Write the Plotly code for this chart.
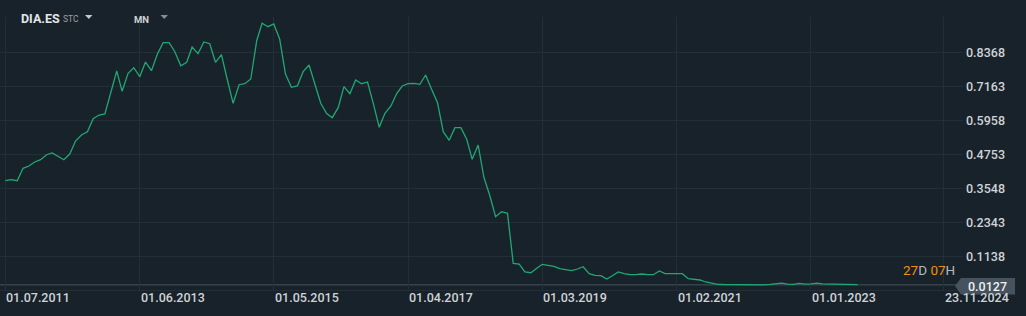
import plotly.graph_objects as go

# ---- data -------------------------------------------------------------
start_year, start_month = 2011, 7
prices = [
    0.3818, 0.3853, 0.3818, 0.4257, 0.4339, 0.4481, 0.4562, 0.4739, 0.4800, 0.4669,
    0.4562, 0.4764, 0.5225, 0.5437, 0.5554, 0.6015, 0.6146, 0.6182, 0.6972, 0.7705,
    0.6986, 0.7624, 0.7822, 0.7503, 0.8024, 0.7716, 0.8308, 0.8708, 0.8708, 0.8389,
    0.7893, 0.8014, 0.8556, 0.8318, 0.8733, 0.8673, 0.8014, 0.8283, 0.7386, 0.6561,
    0.7220, 0.7255, 0.7422, 0.8779, 0.9396, 0.9275, 0.9371, 0.8829, 0.7599, 0.7128,
    0.7174, 0.7681, 0.7918, 0.7270, 0.6561, 0.6199, 0.6051, 0.6405, 0.7149, 0.6901,
    0.7386, 0.7255, 0.7316, 0.6561, 0.5710, 0.6206, 0.6465, 0.6915, 0.7174, 0.7255,
    0.7269, 0.7234, 0.7564, 0.7057, 0.6582, 0.5554, 0.5250, 0.5696, 0.5696, 0.5278,
    0.4576, 0.5083, 0.3939, 0.3286, 0.2542, 0.2720, 0.2663, 0.0891, 0.0866, 0.0583,
    0.0558, 0.0714, 0.0855, 0.0820, 0.0785, 0.0700, 0.0664, 0.0629, 0.0689, 0.0770,
    0.0523, 0.0466, 0.0452, 0.0335, 0.0452, 0.0583, 0.0523, 0.0487, 0.0487, 0.0512,
    0.0487, 0.0487, 0.0618, 0.0523, 0.0523, 0.0523, 0.0523, 0.0345, 0.0335, 0.0299,
    0.0229, 0.0182, 0.0147, 0.0140, 0.0135, 0.0130, 0.0130, 0.0128, 0.0130, 0.0135,
    0.0130, 0.0145, 0.0160, 0.0190, 0.0150, 0.0145, 0.0180, 0.0150, 0.0160, 0.0190,
    0.0160, 0.0155, 0.0150, 0.0150, 0.0145, 0.0140, 0.0135,
]
dates = []
for k in range(len(prices)):
    m = start_month - 1 + k
    dates.append(f"{start_year + m // 12}-{m % 12 + 1:02d}-01")

y_ticks = [0.8368, 0.7163, 0.5958, 0.4753, 0.3548, 0.2343, 0.1138]
x_ticks = ["2011-07-01", "2013-06-01", "2015-05-01", "2017-04-01",
           "2019-03-01", "2021-02-01", "2023-01-01"]
x_tick_text = ["01.07.2011", "01.06.2013", "01.05.2015", "01.04.2017",
               "01.03.2019", "01.02.2021", "01.01.2023"]
current_date, current_date_text = "2024-11-23", "23.11.2024"
last_price, last_price_text = 0.0127, "0.0127"
symbol, symbol_type, timeframe = "DIA.ES", "STC", "MN"

# ---- layout constants -----------------------------------------------
W, H = 1026, 316
ML, MR, MT, MB = 0, 63, 17, 26
PW, PH = W - ML - MR, H - MT - MB
BG = "#18222a"
GRID = "#232e37"
TXT = "#cfd3d7"


def px(xp):
    return (xp - ML) / PW


def py(yp):
    return (H - MB - yp) / PH


fig = go.Figure()
fig.add_trace(go.Scatter(x=dates, y=prices, mode="lines",
                         line=dict(color="#21a872", width=1.3),
                         hoverinfo="skip", showlegend=False))

# current price line
fig.add_shape(type="line", xref="paper", yref="y", x0=0, x1=1,
              y0=last_price, y1=last_price,
              line=dict(color="#46525d", width=1), layer="below")

# price tag with arrow
tag_path = (f"M {px(955)} {py(286)} L {px(961)} {py(278)} L {px(1015)} {py(278)} "
            f"L {px(1015)} {py(294.5)} L {px(961)} {py(294.5)} Z")
fig.add_shape(type="path", xref="paper", yref="paper", path=tag_path,
              fillcolor="#46525d", line=dict(width=0), layer="above")

# header dropdown triangles
for x0, col in [(85, "#c4c8cc"), (160.5, "#858c93")]:
    tri = (f"M {px(x0)} {py(15)} L {px(x0 + 7.5)} {py(15)} "
           f"L {px(x0 + 3.75)} {py(19)} Z")
    fig.add_shape(type="path", xref="paper", yref="paper", path=tri,
                  fillcolor=col, line=dict(width=0), layer="above")

font = "Roboto, Arial, sans-serif"
annotations = []
for xv, tt in zip(x_ticks + [current_date], x_tick_text + [current_date_text]):
    annotations.append(dict(x=xv, xref="x", y=py(297.5), yref="paper",
                            text=tt, showarrow=False, xanchor="left",
                            yanchor="middle", xshift=-1,
                            font=dict(family=font, size=12.5, color=TXT,
                                      weight=500)))
annotations.append(dict(x=px(966), y=py(286), xref="paper", yref="paper",
                        text=last_price_text, showarrow=False,
                        xanchor="left", yanchor="middle",
                        font=dict(family=font, size=12.5, color="#eef0f2",
                                  weight=500)))
annotations.append(dict(x=px(957), y=py(270), xref="paper", yref="paper",
                        text="<span style='color:#f0900f'>27</span>D "
                             "<span style='color:#f0900f'>07</span>H",
                        showarrow=False, xanchor="right", yanchor="middle",
                        font=dict(family=font, size=13.5, color="#b4b9be")))
# header
header = [
    dict(x=px(19), y=py(18.5), text=f"<b>{symbol}</b>",
         font=dict(family=font, size=12.5, color="#e3e6e9")),
    dict(x=px(61), y=py(19.5), text=symbol_type,
         font=dict(family=font, size=8.5, color="#9aa1a8")),
    dict(x=px(132), y=py(19.5), text=f"<b>{timeframe}</b>",
         font=dict(family=font, size=9.5, color="#cfd3d7")),
]
for a in header:
    a.update(xref="paper", yref="paper", showarrow=False,
             xanchor="left", yanchor="middle")
annotations += header

fig.update_layout(
    width=W, height=H,
    margin=dict(l=ML, r=MR, t=MT, b=MB, pad=0),
    paper_bgcolor=BG, plot_bgcolor=BG,
    annotations=annotations,
    xaxis=dict(type="date", range=["2011-06-03", "2025-03-04"],
               tickvals=x_ticks + [current_date], showticklabels=False,
               showgrid=True, gridcolor=GRID, gridwidth=1,
               zeroline=False, showline=True, linecolor=GRID,
               fixedrange=True),
    yaxis=dict(side="right", range=[-0.0055, 0.9619], tickvals=y_ticks,
               ticktext=[f"{v:.4f}" for v in y_ticks],
               tickfont=dict(family=font, size=12.5, color=TXT, weight=500),
               showgrid=True, gridcolor=GRID, gridwidth=1, zeroline=False,
               ticks="", ticklabelstandoff=2, fixedrange=True),
    hovermode=False,
)

fig.write_html("out.html")
